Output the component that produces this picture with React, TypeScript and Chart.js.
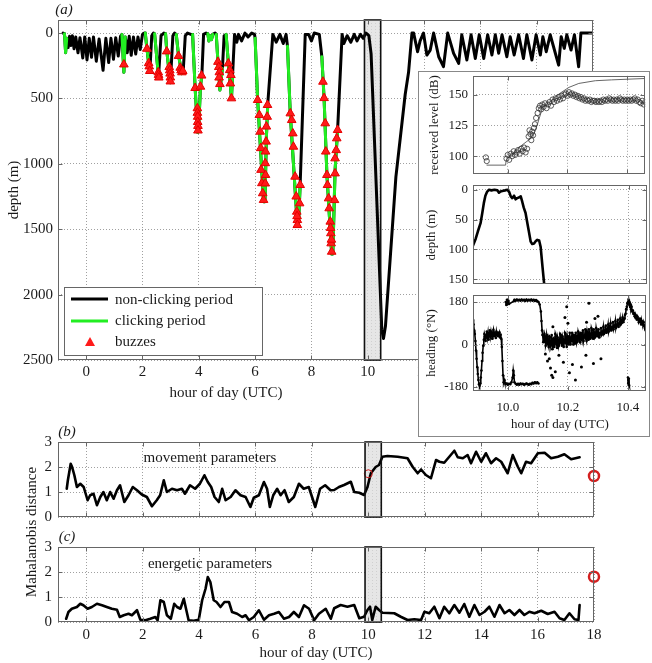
import React, { useEffect, useRef } from 'react';
import { Chart, registerables } from 'chart.js';
Chart.register(...registerables);

const SERIF = '"Liberation Serif", "Times New Roman", serif';
Chart.defaults.font.family = SERIF;
Chart.defaults.color = '#1a1a1a';

// ---------- tick labels ----------
const hourTicks = [0, 2, 4, 6, 8, 10, 12, 14, 16, 18];
const depthTicks = [0, 500, 1000, 1500, 2000, 2500];
const distTicks = [0, 1, 2, 3];
const insetHourTicks = [10.0, 10.2, 10.4];
const levelTicks = [100, 125, 150];
const insetDepthTicks = [0, 50, 100, 150];
const headingTicks = [-180, 0, 180];
const insetRange = [9.884, 10.46];

// ---------- panel (a): dive profile [hour, depth m, clicking 0/1] ----------
const diveProfile = [
  [-0.82, 0, 0], [-0.77, 5, 1], [-0.73, 150, 1], [-0.69, 40, 0], [-0.64, 110, 0], [-0.59, 25, 0], [-0.54, 95, 0], [-0.49, 20, 0],
  [-0.43, 120, 0], [-0.37, 30, 0], [-0.29, 150, 0], [-0.22, 35, 0], [-0.12, 190, 0], [-0.05, 30, 0], [0.03, 205, 0], [0.11, 40, 0],
  [0.19, 185, 0], [0.26, 30, 0], [0.36, 215, 0], [0.46, 45, 0], [0.6, 285, 0], [0.7, 40, 0], [0.8, 225, 0], [0.88, 40, 0],
  [0.97, 200, 0], [1.05, 35, 0], [1.14, 175, 0], [1.22, 25, 0], [1.27, 10, 1], [1.34, 300, 1], [1.39, 30, 0], [1.46, 150, 0],
  [1.53, 25, 0], [1.6, 170, 0], [1.68, 30, 0], [1.76, 160, 0], [1.84, 30, 0], [1.92, 125, 0], [2.0, 10, 0], [2.06, 0, 0],
  [2.1, 0, 1], [2.16, 125, 1], [2.26, 300, 0], [2.33, 20, 0], [2.39, 0, 0], [2.43, 5, 1], [2.57, 335, 0], [2.66, 20, 0],
  [2.76, 0, 0], [2.82, 5, 1], [2.86, 130, 1], [2.99, 380, 0], [3.08, 20, 0], [3.14, 0, 0], [3.2, 10, 1], [3.28, 170, 1],
  [3.4, 310, 1], [3.45, 280, 0], [3.52, 20, 0], [3.6, 0, 0], [3.72, 10, 0],
  [3.78, 10, 1], [3.87, 420, 1], [3.96, 760, 1], [4.0, 700, 1], [4.06, 410, 1], [4.11, 320, 0], [4.17, 10, 0], [4.26, 0, 0],
  [4.32, 5, 1], [4.36, 60, 1], [4.4, 20, 1], [4.45, 50, 1], [4.5, 10, 0], [4.58, 0, 0],
  [4.62, 10, 1], [4.68, 220, 1], [4.75, 436, 1], [4.84, 270, 0], [4.9, 20, 0], [4.97, 10, 1], [5.05, 230, 1], [5.16, 500, 1],
  [5.2, 320, 0], [5.27, 10, 0], [5.35, 70, 0], [5.41, 10, 0], [5.52, 60, 0], [5.64, 0, 0], [5.75, 30, 0], [5.88, 0, 0], [5.98, 10, 0],
  [6.0, 40, 1], [6.09, 510, 1], [6.3, 1290, 1], [6.35, 1290, 1], [6.4, 800, 1], [6.45, 540, 0], [6.63, 10, 0],
  [6.75, 70, 0], [6.88, 10, 0], [7.0, 80, 0], [7.1, 10, 0], [7.15, 100, 1], [7.25, 620, 1], [7.5, 1470, 1], [7.54, 1470, 1],
  [7.6, 1160, 0], [7.78, 10, 0], [7.9, 10, 0], [8.0, 60, 0], [8.1, 0, 0], [8.28, 10, 0], [8.37, 181, 1], [8.45, 500, 1],
  [8.55, 1085, 1], [8.72, 1690, 1], [8.76, 1690, 1], [8.84, 1050, 1], [8.93, 740, 0], [9.09, 10, 0],
  [9.15, 80, 0], [9.27, 20, 0], [9.4, 70, 0], [9.52, 10, 0], [9.62, 60, 0], [9.74, 10, 0], [9.84, 40, 0], [9.93, 0, 0],
  [10.0, 10, 0], [10.04, 20, 0], [10.08, 90, 0], [10.12, 160, 0], [10.5, 2270, 0], [10.56, 2335, 0], [10.63, 2240, 0],
  [11.0, 1100, 0], [11.33, 470, 0], [11.45, 300, 0], [11.57, 0, 0],
  [11.63, 0, 0], [11.77, 143, 0], [11.86, 60, 0], [11.98, 0, 0], [12.1, 168, 0], [12.22, 130, 0], [12.34, 0, 0], [12.52, 181, 0],
  [12.69, 257, 0], [12.84, 0, 0], [13.05, 155, 0], [13.23, 232, 0], [13.34, 13, 0], [13.52, 206, 0], [13.67, 13, 0], [13.82, 194, 0],
  [13.96, 13, 0], [14.12, 194, 0], [14.26, 13, 0], [14.41, 168, 0], [14.53, 13, 0], [14.65, 155, 0], [14.77, 13, 0], [14.94, 181, 0],
  [15.06, 28, 0], [15.2, 168, 0], [15.36, 13, 0], [15.53, 194, 0], [15.65, 13, 0], [15.83, 206, 0], [15.98, 13, 0], [16.13, 168, 0],
  [16.22, 28, 0], [16.34, 143, 0], [16.48, 13, 0], [16.78, 245, 0], [16.87, 28, 0], [16.98, 117, 0], [17.07, 13, 0], [17.22, 130, 0],
  [17.34, 13, 0], [17.49, 257, 0], [17.57, 0, 0], [18.0, 0, 0],
];

// buzzes [hour, depth m]
const buzzes = [
  [1.34, 240],
  [2.16, 120], [2.22, 230], [2.24, 255], [2.26, 290],
  [2.56, 300], [2.57, 320], [2.58, 340],
  [2.86, 140], [2.95, 260], [2.97, 285], [2.98, 310], [2.99, 340], [2.99, 370],
  [3.28, 175], [3.34, 265], [3.37, 285], [3.4, 300], [3.43, 290],
  [3.87, 420], [3.95, 575], [3.95, 610], [3.96, 640], [3.96, 680], [3.97, 710], [3.97, 745], [4.06, 410], [4.1, 325],
  [4.68, 220], [4.71, 260], [4.73, 300], [4.72, 340], [4.75, 390],
  [5.05, 232], [5.1, 283], [5.14, 321], [5.12, 385], [5.16, 499],
  [6.09, 512], [6.15, 627], [6.18, 754], [6.2, 880], [6.21, 1046], [6.24, 1148], [6.27, 1225], [6.3, 1276],
  [6.36, 1150], [6.37, 1085], [6.36, 995], [6.37, 906], [6.39, 830], [6.4, 715], [6.43, 640], [6.44, 550],
  [7.25, 614], [7.3, 665], [7.34, 767], [7.36, 869], [7.42, 1098], [7.46, 1250], [7.48, 1366], [7.5, 1430], [7.5, 1468],
  [7.49, 1400], [7.58, 1302], [7.6, 1162],
  [8.41, 372], [8.45, 497], [8.49, 690], [8.51, 906], [8.55, 1085], [8.57, 1162], [8.61, 1264], [8.63, 1340], [8.67, 1442],
  [8.69, 1531], [8.7, 1608], [8.72, 1672], [8.71, 1580], [8.68, 1490], [8.82, 1277], [8.84, 1073], [8.84, 958], [8.88, 895],
  [8.9, 805], [8.93, 741],
];

// ---------- panel (b) & (c): Mahalanobis distance [hour, value] ----------
const movementDist = [
  [-0.69, 1.13], [-0.65, 1.47], [-0.55, 2.13], [-0.5, 2.0], [-0.42, 1.67], [-0.33, 1.2], [-0.21, 1.33], [-0.09, 1.2],
  [0.05, 0.67], [0.14, 0.87], [0.26, 0.93], [0.38, 0.47], [0.5, 0.8], [0.61, 1.0], [0.73, 0.67], [0.85, 1.0], [0.97, 0.73],
  [1.09, 1.07], [1.2, 1.27], [1.35, 0.6], [1.5, 0.87], [1.65, 1.2], [1.8, 1.07], [1.97, 0.9], [2.15, 0.8], [2.33, 0.43],
  [2.5, 0.67], [2.62, 0.87], [2.75, 1.47], [2.86, 1.0], [3.04, 1.13], [3.22, 1.07], [3.39, 1.13], [3.5, 0.93], [3.68, 1.27],
  [3.86, 1.13], [4.03, 1.33], [4.19, 1.67], [4.31, 1.4], [4.43, 1.2], [4.55, 0.8], [4.7, 0.6], [4.82, 1.13], [4.94, 0.67],
  [5.12, 0.8], [5.29, 1.07], [5.47, 0.87], [5.65, 0.8], [5.82, 0.4], [5.94, 0.77], [6.12, 0.87], [6.3, 1.4], [6.41, 1.13],
  [6.51, 0.4], [6.63, 0.87], [6.77, 1.13], [6.89, 0.87], [7.03, 1.07], [7.18, 0.6], [7.36, 0.8], [7.54, 1.33], [7.71, 1.13],
  [7.89, 1.2], [8.12, 0.4], [8.29, 1.13], [8.47, 1.27], [8.66, 1.07], [8.79, 1.08], [8.96, 1.2], [9.14, 1.28], [9.38, 1.41],
  [9.5, 1.0], [9.68, 0.97], [9.85, 0.88], [9.97, 1.2], [10.09, 1.75], [10.26, 2.0], [10.38, 2.08], [10.5, 2.41], [10.68, 2.44],
  [11.04, 2.41], [11.39, 2.35], [11.57, 2.01], [11.75, 1.75], [11.87, 1.9], [12.04, 1.68], [12.22, 1.55], [12.4, 2.28],
  [12.52, 2.21], [12.69, 2.17], [12.87, 2.41], [13.05, 2.65], [13.17, 2.39], [13.35, 2.35], [13.52, 2.48], [13.64, 2.15],
  [13.82, 2.61], [14.0, 2.21], [14.17, 2.55], [14.35, 2.15], [14.53, 2.35], [14.71, 2.21], [14.94, 1.75], [15.12, 2.48],
  [15.3, 2.01], [15.42, 1.75], [15.59, 2.21], [15.77, 2.15], [16.01, 2.55], [16.25, 2.57], [16.48, 2.35], [16.72, 2.41],
  [16.95, 2.51], [17.19, 2.31], [17.49, 2.39],
];
const energeticDist = [
  [-0.71, 0.13], [-0.63, 0.4], [-0.51, 0.53], [-0.33, 0.6], [-0.21, 0.73], [-0.1, 0.67], [0.05, 0.53], [0.2, 0.6], [0.38, 0.73],
  [0.56, 0.67], [0.73, 0.6], [0.91, 0.53], [1.09, 0.49], [1.19, 0.2], [1.33, 0.27], [1.5, 0.33], [1.62, 0.27], [1.8, 0.47],
  [1.92, 0.09], [2.1, 0.07], [2.27, 0.13], [2.45, 0.2], [2.53, 0.07], [2.63, 0.87], [2.75, 0.8], [2.86, 0.27], [3.0, 0.13],
  [3.12, 0.73], [3.22, 0.6], [3.34, 0.53], [3.46, 0.93], [3.55, 0.47], [3.63, 0.07], [3.81, 0.05], [3.99, 0.09], [4.11, 0.87],
  [4.23, 1.33], [4.31, 1.8], [4.4, 1.6], [4.52, 0.87], [4.62, 0.8], [4.76, 0.6], [4.9, 0.8], [5.06, 0.8], [5.17, 0.4],
  [5.35, 0.33], [5.53, 0.2], [5.65, 0.27], [5.77, 0.07], [5.94, 0.2], [6.12, 0.47], [6.3, 0.09], [6.48, 0.27], [6.66, 0.33],
  [6.83, 0.4], [7.01, 0.13], [7.19, 0.2], [7.36, 0.4], [7.54, 0.2], [7.72, 0.67], [7.9, 0.53], [8.08, 0.07], [8.25, 0.33],
  [8.49, 0.53], [8.67, 0.13], [8.79, 0.55], [9.02, 0.68], [9.26, 0.61], [9.5, 0.68], [9.68, 0.15], [9.85, 0.21], [9.97, 0.48],
  [10.06, 0.61], [10.14, 0.08], [10.26, 0.61], [10.38, 0.48], [10.5, 0.37], [10.92, 0.35], [11.15, 0.21], [11.39, 0.08],
  [11.63, 0.11], [11.87, 0.08], [11.99, 0.41], [12.16, 0.35], [12.34, 0.61], [12.52, 0.15], [12.69, 0.61], [12.87, 0.35],
  [13.05, 0.68], [13.23, 0.37], [13.4, 0.72], [13.58, 0.21], [13.76, 0.68], [13.94, 0.28], [14.12, 0.41], [14.29, 0.61],
  [14.47, 0.21], [14.65, 0.68], [14.83, 0.35], [15.0, 0.48], [15.18, 0.28], [15.36, 0.48], [15.53, 0.28], [15.71, 0.41],
  [15.89, 0.35], [16.13, 0.45], [16.36, 0.32], [16.6, 0.41], [16.78, 0.15], [16.95, 0.08], [17.13, 0.35], [17.31, 0.11],
  [17.45, 0.08], [17.49, 0.68],
];
const movementReference = [[18, 1.64]];
const movementTagOn = [[10.0, 1.73]];
const energeticReference = [[18, 1.81]];

// ---------- inset ----------
const receivedLevel = [
  [9.927, 99], [9.93, 96], [9.996, 98], [10.0, 101], [10.005, 97], [10.01, 102], [10.015, 100], [10.02, 104], [10.025, 101],
  [10.03, 103], [10.035, 105], [10.04, 102], [10.045, 106], [10.05, 104], [10.055, 107], [10.06, 103], [10.065, 106],
  [10.07, 116], [10.073, 121], [10.076, 118], [10.079, 113], [10.082, 120], [10.085, 117], [10.088, 123], [10.091, 126],
  [10.095, 131], [10.1, 135], [10.104, 139], [10.108, 141], [10.112, 138], [10.116, 142], [10.12, 140], [10.125, 143],
  [10.13, 139], [10.135, 142], [10.14, 144], [10.145, 141], [10.15, 146], [10.155, 144], [10.16, 147], [10.165, 145],
  [10.17, 148], [10.175, 146], [10.18, 149], [10.185, 147], [10.19, 150], [10.195, 151], [10.2, 149], [10.205, 152],
  [10.21, 150], [10.215, 151], [10.22, 149], [10.225, 150], [10.23, 148], [10.235, 149], [10.24, 147], [10.245, 148],
  [10.25, 146], [10.255, 147], [10.26, 145], [10.265, 146], [10.27, 145], [10.275, 146], [10.28, 144], [10.285, 145],
  [10.29, 145], [10.295, 144], [10.3, 145], [10.305, 144], [10.31, 145], [10.315, 144], [10.32, 146], [10.325, 145],
  [10.33, 146], [10.335, 145], [10.34, 147], [10.345, 146], [10.35, 145], [10.355, 146], [10.36, 145], [10.365, 146],
  [10.37, 145], [10.375, 147], [10.38, 146], [10.385, 145], [10.39, 146], [10.395, 145], [10.4, 146], [10.405, 145],
  [10.41, 146], [10.415, 145], [10.42, 146], [10.425, 147], [10.43, 145], [10.435, 146], [10.44, 144], [10.445, 143],
  [10.45, 145], [10.455, 142], [10.46, 144],
];
const levelModel = [
  [9.93, 92.7], [9.993, 92.7], [9.995, 96.8], [10.04, 107.5], [10.062, 111.6], [10.084, 115.6], [10.1, 126.3], [10.117, 139.8],
  [10.139, 143.8], [10.172, 150.6], [10.205, 155.9], [10.238, 159.1], [10.293, 161.3], [10.348, 162], [10.458, 163.1],
];
const insetDepth = [
  [9.882, 96], [9.893, 82], [9.9, 70], [9.909, 56], [9.915, 38], [9.92, 22], [9.925, 10], [9.931, 3], [9.937, 0], [9.945, 1],
  [9.955, 0], [9.965, 1], [9.97, 5], [9.975, 3], [9.981, 2], [9.99, 1], [9.998, 0], [10.004, 4], [10.009, 11], [10.014, 14],
  [10.02, 10], [10.025, 16], [10.03, 14], [10.036, 13], [10.042, 11], [10.047, 20], [10.052, 30], [10.058, 39], [10.064, 56],
  [10.07, 73], [10.075, 87], [10.08, 91], [10.086, 90], [10.092, 86], [10.097, 84], [10.103, 85], [10.108, 96], [10.114, 129],
  [10.118, 150], [10.121, 165],
];
// heading tracks [hour, degrees]
const headingEarly = [
  [9.88, 75], [9.882, 95], [9.884, 105], [9.886, 85], [9.888, 60], [9.89, 45], [9.892, 15], [9.894, -25], [9.896, -60],
  [9.898, -95], [9.9, -125], [9.902, -150], [9.904, -168], [9.906, -175], [9.908, -165], [9.91, -140], [9.912, -110],
  [9.914, -70], [9.916, -35], [9.918, -5], [9.92, 20], [9.922, 45], [9.924, 35], [9.926, 15], [9.928, 40], [9.93, 55],
  [9.932, 30], [9.934, 50], [9.936, 20], [9.938, 45], [9.94, 60], [9.942, 35], [9.944, 55], [9.946, 40], [9.948, 25],
  [9.95, 50], [9.952, 62], [9.954, 35], [9.956, 50], [9.958, 45], [9.96, 28], [9.962, 55], [9.964, 40], [9.966, 50],
  [9.968, 35], [9.97, 45], [9.972, 52], [9.974, 30], [9.976, 42], [9.978, 25], [9.98, -10], [9.982, -70], [9.984, -130],
  [9.986, -160], [9.988, -150],
];
const headingWrapLow = [
  [9.988, -150], [9.99, -162], [9.993, -168], [9.996, -165], [10.0, -170], [10.004, -166], [10.008, -168],
  [10.012, -160], [10.016, -140], [10.018, -110], [10.02, -130], [10.022, -160], [10.026, -166], [10.03, -170], [10.034, -167],
  [10.038, -170], [10.042, -165], [10.046, -168], [10.05, -166], [10.054, -170], [10.058, -168], [10.062, -165], [10.066, -168],
  [10.07, -170], [10.074, -166], [10.078, -168], [10.082, -162], [10.086, -165], [10.09, -160], [10.094, -164], [10.098, -160],
  [10.102, -165],
];
const headingWrapHigh = [
  [9.993, 180], [9.995, 168], [9.997, 190], [9.999, 175], [10.002, 185], [10.004, 172],
  [10.02, 184], [10.022, 190], [10.026, 186], [10.03, 191], [10.034, 187], [10.038, 190], [10.042, 186], [10.046, 191],
  [10.05, 187], [10.054, 190], [10.058, 185], [10.062, 191], [10.066, 186], [10.07, 190], [10.074, 187], [10.078, 191],
  [10.082, 186], [10.086, 190], [10.09, 185], [10.094, 189], [10.098, 184], [10.102, 180], [10.106, 170], [10.11, 140],
  [10.112, 100], [10.114, 60], [10.116, 40],
];
const headingLate = [
  [10.116, 40], [10.118, 10], [10.12, 15], [10.122, 45], [10.124, 35], [10.126, -5], [10.128, 5], [10.13, 40], [10.132, 28],
  [10.134, 0], [10.136, -10], [10.138, 35], [10.14, 30], [10.142, -5], [10.144, 10], [10.146, 40], [10.148, -20], [10.15, 20],
  [10.152, 25], [10.154, -10], [10.156, 0], [10.158, 45], [10.16, 35], [10.162, 5], [10.164, -15], [10.166, 30], [10.168, 20],
  [10.17, -5], [10.172, 5], [10.174, 45], [10.176, 40], [10.178, 10], [10.18, -5], [10.182, 35], [10.184, 25], [10.186, -10],
  [10.188, 10], [10.19, 50], [10.192, 45], [10.194, 5], [10.196, -10], [10.198, 35], [10.2, 20], [10.202, 0], [10.204, 35],
  [10.206, 50], [10.208, 0], [10.21, 15], [10.212, 30], [10.214, 50], [10.216, 15], [10.218, 0], [10.22, 40], [10.222, 25],
  [10.224, 5], [10.226, 50], [10.228, 35], [10.23, 10], [10.232, 20], [10.234, 55], [10.236, 45], [10.238, 15], [10.24, 10],
  [10.242, 50], [10.244, 30], [10.246, 20], [10.248, 50], [10.25, 60], [10.252, 15], [10.254, 30], [10.256, 40], [10.258, 65],
  [10.26, 25], [10.262, 15], [10.264, 55], [10.266, 40], [10.268, 20], [10.27, 65], [10.272, 45], [10.274, 25], [10.276, 30],
  [10.278, 70], [10.28, 60], [10.282, 30], [10.284, 25], [10.286, 65], [10.288, 50], [10.29, 30], [10.292, 35], [10.294, 70],
  [10.296, 55], [10.298, 35], [10.3, 40], [10.302, 65], [10.304, 30], [10.306, 45], [10.308, 50], [10.31, 70], [10.312, 40],
  [10.314, 45], [10.316, 55], [10.318, 75], [10.32, 45], [10.322, 50], [10.324, 60], [10.326, 80], [10.328, 50], [10.33, 55],
  [10.332, 65], [10.334, 85], [10.336, 55], [10.338, 65], [10.34, 70], [10.342, 90], [10.344, 60], [10.346, 70], [10.348, 75],
  [10.35, 95], [10.352, 65], [10.354, 75], [10.356, 80], [10.358, 100], [10.36, 70], [10.362, 80], [10.364, 85], [10.366, 105],
  [10.368, 75], [10.37, 85], [10.372, 90], [10.374, 110], [10.376, 85], [10.378, 90], [10.38, 100], [10.382, 115],
  [10.384, 95], [10.386, 105], [10.388, 110], [10.39, 125], [10.392, 130], [10.394, 150], [10.396, 160], [10.398, 175],
  [10.4, 180], [10.402, 190], [10.403, 175], [10.405, 180], [10.406, 165], [10.408, 170], [10.41, 150], [10.412, 160],
  [10.414, 140], [10.416, 145], [10.418, 130], [10.42, 135], [10.422, 120], [10.424, 128], [10.426, 115], [10.428, 120],
  [10.43, 105], [10.432, 118], [10.434, 110], [10.436, 95], [10.438, 100], [10.44, 110], [10.442, 95], [10.444, 85],
  [10.446, 100], [10.448, 90], [10.45, 85], [10.452, 95], [10.454, 80], [10.456, 70], [10.458, 75], [10.46, 85],
];
const headingStray = [
  [10.138, -60], [10.142, -100], [10.146, -130], [10.15, -140], [10.158, -115], [10.17, -45], [10.185, -75], [10.19, 115],
  [10.196, 160], [10.205, -120], [10.225, -150], [10.245, -95], [10.262, 95], [10.27, 175], [10.285, -80], [10.3, 120],
  [10.31, -60], [10.15, 75], [10.2, 90], [10.125, -40], [10.132, -70], [10.215, -85], [10.26, -45], [10.29, 110],
];
const headingCluster = [
  [10.4, -140], [10.401, -150], [10.402, -160], [10.403, -170], [10.404, -175], [10.402, -155], [10.401, -165], [10.403, -145],
];

// ---------- helpers ----------
const pts = (arr: number[][]) => arr.map(([x, y]) => ({ x, y }));

function fixSize(size: number, horizontal: boolean) {
  return (s: any) => {
    if (horizontal) s.height = size; else s.width = size;
    s.paddingTop = 0; s.paddingBottom = 0; s.paddingLeft = 0; s.paddingRight = 0;
  };
}

function axis(o: any) {
  return {
    type: 'linear',
    position: o.horizontal ? 'bottom' : 'left',
    min: o.min, max: o.max, reverse: !!o.reverse,
    afterBuildTicks: (s: any) => { s.ticks = o.ticks.map((v: number) => ({ value: v })); },
    afterFit: fixSize(o.size, o.horizontal),
    grid: { color: '#a0a0a0', lineWidth: 1, drawTicks: false },
    border: { display: false, dash: [1, 2] },
    ticks: {
      display: o.labels !== false,
      autoSkip: false, maxRotation: 0, padding: o.padding ?? 4,
      color: '#1a1a1a',
      font: { family: SERIF, size: o.font ?? 15 },
      callback: o.fmt ?? ((v: number) => String(v)),
    },
  };
}

type TextItem = { t: string; x: number; y: number; size?: number; rot?: boolean; italic?: boolean; align?: CanvasTextAlign };

function deco(cfg: { box?: boolean; texts?: TextItem[]; legend?: boolean }) {
  return {
    id: 'deco',
    beforeDatasetsDraw(chart: any) {
      if (!cfg.box) return;
      const { ctx, chartArea: a, scales } = chart;
      const x0 = scales.x.getPixelForValue(insetRange[0]);
      const x1 = scales.x.getPixelForValue(insetRange[1]);
      ctx.save();
      ctx.fillStyle = '#e6e6e6';
      ctx.fillRect(x0, a.top, x1 - x0, a.bottom - a.top);
      ctx.strokeStyle = '#d0d0d0';
      ctx.lineWidth = 1;
      ctx.setLineDash([1, 2]);
      for (let x = x0 + 3; x < x1 - 1; x += 4) {
        ctx.beginPath(); ctx.moveTo(Math.round(x) + 0.5, a.top); ctx.lineTo(Math.round(x) + 0.5, a.bottom); ctx.stroke();
      }
      ctx.restore();
    },
    afterDatasetsDraw(chart: any) {
      const { ctx, chartArea: a, scales } = chart;
      ctx.save();
      ctx.setLineDash([]);
      if (cfg.box) {
        const x0 = scales.x.getPixelForValue(insetRange[0]);
        const x1 = scales.x.getPixelForValue(insetRange[1]);
        ctx.strokeStyle = '#111';
        ctx.lineWidth = 1.6;
        ctx.strokeRect(x0, a.top, x1 - x0, a.bottom - a.top);
      }
      const L = Math.round(a.left) + 0.5, R = Math.round(a.right) - 0.5;
      const T = Math.round(a.top) + 0.5, B = Math.round(a.bottom) - 0.5;
      ctx.strokeStyle = '#666';
      ctx.lineWidth = 1;
      ctx.strokeRect(L, T, R - L, B - T);
      ctx.beginPath();
      for (const tk of scales.x.ticks) {
        const px = Math.round(scales.x.getPixelForValue(tk.value)) + 0.5;
        if (px <= L + 1 || px >= R - 1) continue;
        ctx.moveTo(px, T); ctx.lineTo(px, T + 4);
        ctx.moveTo(px, B); ctx.lineTo(px, B - 4);
      }
      for (const tk of scales.y.ticks) {
        const py = Math.round(scales.y.getPixelForValue(tk.value)) + 0.5;
        if (py <= T + 1 || py >= B - 1) continue;
        ctx.moveTo(L, py); ctx.lineTo(L + 4, py);
        ctx.moveTo(R, py); ctx.lineTo(R - 4, py);
      }
      ctx.stroke();
      ctx.restore();
    },
    afterDraw(chart: any) {
      const { ctx } = chart;
      if (cfg.legend) {
        ctx.save();
        ctx.fillStyle = '#fff';
        ctx.fillRect(64, 287, 198, 68);
        ctx.strokeStyle = '#666';
        ctx.lineWidth = 1;
        ctx.strokeRect(64.5, 287.5, 198, 68);
        ctx.lineWidth = 3;
        ctx.strokeStyle = '#000';
        ctx.beginPath(); ctx.moveTo(71, 299); ctx.lineTo(108, 299); ctx.stroke();
        ctx.strokeStyle = '#22ee22';
        ctx.beginPath(); ctx.moveTo(71, 321); ctx.lineTo(108, 321); ctx.stroke();
        ctx.fillStyle = '#ff1a1a';
        ctx.beginPath(); ctx.moveTo(90, 337); ctx.lineTo(95, 346); ctx.lineTo(85, 346); ctx.closePath(); ctx.fill();
        ctx.fillStyle = '#1a1a1a';
        ctx.font = `15px ${SERIF}`;
        ctx.textAlign = 'left';
        ctx.textBaseline = 'middle';
        ctx.fillText('non-clicking period', 115, 300);
        ctx.fillText('clicking period', 115, 321);
        ctx.fillText('buzzes', 115, 342);
        ctx.restore();
      }
      for (const t of cfg.texts || []) {
        ctx.save();
        ctx.font = `${t.italic ? 'italic ' : ''}${t.size ?? 15}px ${SERIF}`;
        ctx.fillStyle = '#1a1a1a';
        ctx.textAlign = t.align ?? 'center';
        ctx.textBaseline = 'middle';
        ctx.translate(t.x, t.y);
        if (t.rot) ctx.rotate(-Math.PI / 2);
        ctx.fillText(t.t, 0, 0);
        ctx.restore();
      }
    },
  };
}

function baseOptions(padding: any, scales: any) {
  return {
    responsive: false,
    maintainAspectRatio: false,
    animation: false,
    devicePixelRatio: 1,
    events: [],
    layout: { padding },
    plugins: { legend: { display: false }, tooltip: { enabled: false } },
    scales,
  };
}

const lineDs = (data: any[], color: string, width: number, extra: any = {}) => ({
  data, showLine: true, borderColor: color, borderWidth: width, pointRadius: 0,
  borderJoinStyle: 'round', borderCapStyle: 'round', tension: 0, ...extra,
});

const headingTrack = (data: number[][]) => ({
  data: pts(data), showLine: true, borderColor: '#000', borderWidth: 1.6, pointRadius: 1.3,
  pointStyle: 'circle', backgroundColor: '#000', pointBorderWidth: 0, tension: 0,
});

export default function App() {
  const refA = useRef<HTMLCanvasElement>(null);
  const refB = useRef<HTMLCanvasElement>(null);
  const refC = useRef<HTMLCanvasElement>(null);
  const refRL = useRef<HTMLCanvasElement>(null);
  const refD = useRef<HTMLCanvasElement>(null);
  const refH = useRef<HTMLCanvasElement>(null);

  useEffect(() => {
    const charts: Chart[] = [];
    const profilePts = diveProfile.map(([h, d]) => ({ x: h, y: d }));
    const clickPts = diveProfile.map(([h, d, c], i) => ({
      x: h,
      y: c || (i > 0 && diveProfile[i - 1][2]) ? d : null,
    }));

    // panel (a)
    charts.push(new Chart(refA.current!, {
      type: 'scatter',
      data: {
        datasets: [
          { label: 'buzzes', data: pts(buzzes), pointStyle: 'triangle', pointRadius: 5, backgroundColor: '#ff1a1a', borderColor: '#e60000', borderWidth: 1, order: 0 },
          lineDs(clickPts, '#22ee22', 3, { label: 'clicking period', spanGaps: false, order: 1 }),
          lineDs(profilePts, '#000', 3, { label: 'non-clicking period', order: 2 }),
        ],
      },
      options: baseOptions({ left: 0, right: 59, top: 20, bottom: 0 }, {
        x: axis({ horizontal: true, min: -1, max: 18, ticks: hourTicks, size: 50, padding: 3 }),
        y: axis({ min: -100, max: 2500, reverse: true, ticks: depthTicks, size: 58, padding: 5 }),
      }) as any,
      plugins: [deco({
        box: true, legend: true,
        texts: [
          { t: '(a)', x: 64, y: 10, italic: true },
          { t: 'depth (m)', x: 14, y: 190, rot: true },
          { t: 'hour of day (UTC)', x: 226, y: 393 },
        ],
      })],
    } as any));

    // panel (c) (canvas spans the shared y label)
    charts.push(new Chart(refC.current!, {
      type: 'scatter',
      data: {
        datasets: [
          { data: pts(energeticReference), pointStyle: 'circle', pointRadius: 5, borderColor: '#d42020', borderWidth: 2.5, backgroundColor: 'rgba(0,0,0,0)', clip: false, order: 0 },
          lineDs(pts(energeticDist), '#000', 2.6, { order: 1 }),
        ],
      },
      options: baseOptions({ left: 0, right: 58, top: 122, bottom: 0 }, {
        x: axis({ horizontal: true, min: -1, max: 18, ticks: hourTicks, size: 41, padding: 4 }),
        y: axis({ min: 0, max: 3, ticks: distTicks, size: 58, padding: 6 }),
      }) as any,
      plugins: [deco({
        box: true,
        texts: [
          { t: '(c)', x: 67, y: 112, italic: true },
          { t: 'energetic parameters', x: 210, y: 139 },
          { t: 'Mahalanobis distance', x: 32, y: 107, rot: true },
          { t: 'hour of day (UTC)', x: 316, y: 228 },
        ],
      })],
    } as any));

    // panel (b)
    charts.push(new Chart(refB.current!, {
      type: 'scatter',
      data: {
        datasets: [
          { data: pts(movementReference), pointStyle: 'circle', pointRadius: 5, borderColor: '#d42020', borderWidth: 2.5, backgroundColor: 'rgba(0,0,0,0)', clip: false, order: 0 },
          { data: pts(movementTagOn), pointStyle: 'circle', pointRadius: 4, borderColor: '#d42020', borderWidth: 1, backgroundColor: 'rgba(0,0,0,0)', clip: false, order: 0 },
          lineDs(pts(movementDist), '#000', 2.6, { order: 1 }),
        ],
      },
      options: baseOptions({ left: 0, right: 58, top: 22, bottom: 0 }, {
        x: axis({ horizontal: true, min: -1, max: 18, ticks: hourTicks, size: 13, labels: false }),
        y: axis({ min: 0, max: 3, ticks: distTicks, size: 58, padding: 6 }),
      }) as any,
      plugins: [deco({
        box: true,
        texts: [
          { t: '(b)', x: 67, y: 12, italic: true },
          { t: 'movement parameters', x: 210, y: 38 },
        ],
      })],
    } as any));

    const fmt1 = (v: number) => v.toFixed(1);
    // inset: received level
    charts.push(new Chart(refRL.current!, {
      type: 'scatter',
      data: {
        datasets: [
          { data: pts(receivedLevel), pointStyle: 'circle', pointRadius: 2.6, borderColor: '#333', borderWidth: 0.8, backgroundColor: 'rgba(0,0,0,0)', order: 0 },
          lineDs(pts(levelModel), '#666', 1, { order: 1 }),
        ],
      },
      options: baseOptions({ left: 0, right: 3, top: 4, bottom: 0 }, {
        x: axis({ horizontal: true, min: insetRange[0], max: insetRange[1], ticks: insetHourTicks, size: 5, labels: false }),
        y: axis({ min: 85.5, max: 165.3, ticks: levelTicks, size: 55, padding: 5, font: 13 }),
      }) as any,
      plugins: [deco({ texts: [{ t: 'received level (dB)', x: 17, y: 54, rot: true, size: 13 }] })],
    } as any));

    // inset: depth
    charts.push(new Chart(refD.current!, {
      type: 'scatter',
      data: { datasets: [lineDs(pts(insetDepth), '#000', 2.6)] },
      options: baseOptions({ left: 0, right: 3, top: 6, bottom: 0 }, {
        x: axis({ horizontal: true, min: insetRange[0], max: insetRange[1], ticks: insetHourTicks, size: 5, labels: false }),
        y: axis({ min: -8, max: 158, reverse: true, ticks: insetDepthTicks, size: 55, padding: 5, font: 13 }),
      }) as any,
      plugins: [deco({ texts: [{ t: 'depth (m)', x: 14, y: 56, rot: true, size: 13 }] })],
    } as any));

    // inset: heading
    charts.push(new Chart(refH.current!, {
      type: 'scatter',
      data: {
        datasets: [
          headingTrack(headingEarly),
          headingTrack(headingWrapLow),
          headingTrack(headingWrapHigh),
          headingTrack(headingLate),
          headingTrack(headingCluster),
          { data: pts(headingStray), pointStyle: 'circle', pointRadius: 1.5, backgroundColor: '#000', borderWidth: 0 },
        ],
      },
      options: baseOptions({ left: 0, right: 3, top: 6, bottom: 0 }, {
        x: axis({ horizontal: true, min: insetRange[0], max: insetRange[1], ticks: insetHourTicks, size: 46, padding: 9, font: 13, fmt: fmt1 }),
        y: axis({ min: -197, max: 210, ticks: headingTicks, size: 55, padding: 5, font: 13 }),
      }) as any,
      plugins: [deco({
        texts: [
          { t: 'heading (°N)', x: 14, y: 54, rot: true, size: 13 },
          { t: 'hour of day (UTC)', x: 142, y: 136, size: 13 },
        ],
      })],
    } as any));

    return () => charts.forEach((c) => c.destroy());
  }, []);

  const abs = (left: number, top: number): React.CSSProperties => ({ position: 'absolute', left, top });

  return (
    <div style={{ position: 'fixed', left: 0, top: 0, width: 652, height: 663, background: '#fff', overflow: 'hidden' }}>
      <canvas ref={refA} width={652} height={410} style={abs(0, 0)} />
      <canvas ref={refC} width={652} height={238} style={abs(0, 425)} />
      <canvas ref={refB} width={652} height={110} style={abs(0, 420)} />
      <div style={{ position: 'absolute', left: 418, top: 71, width: 232, height: 366, border: '1px solid #888', background: '#fff', boxSizing: 'border-box' }} />
      <canvas ref={refRL} width={232} height={108} style={abs(418, 71)} />
      <canvas ref={refD} width={232} height={110} style={abs(418, 179)} />
      <canvas ref={refH} width={232} height={148} style={abs(418, 289)} />
    </div>
  );
}
